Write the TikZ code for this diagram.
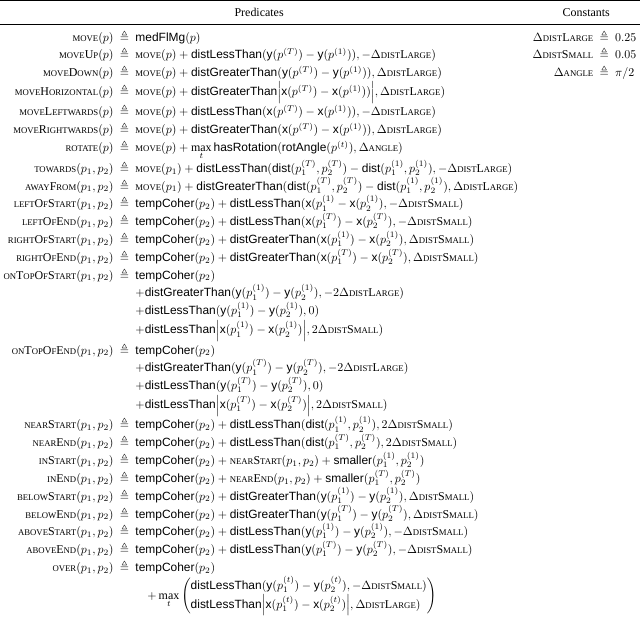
\documentclass[tikz,border=0pt]{standalone}
\usepackage{amsmath,amssymb}
\usepackage{fontspec}
\setmainfont{Liberation Serif}
\setsansfont{Liberation Sans}
\usepackage{booktabs}
\newcommand\K[1]{{\fontsize{7.3}{8}\selectfont\MakeUppercase{#1}}}
\newcommand\Pn[1]{\text{\rmfamily #1}}
\newcommand\F[1]{\mathsf{#1}}
\newcommand\DL{\Delta\Pn{\K{dist}L\K{arge}}}
\newcommand\DS{\Delta\Pn{\K{dist}S\K{mall}}}
\newcommand\DA{\Delta\Pn{\K{angle}}}
\newcommand\MV{\Pn{\K{move}}}
\newcommand\TC{\F{tempCoher}(p_2)}
\newcommand\pa[2]{p_{#1}^{(#2)}}
\newcommand\qq{(p_1,p_2)}
\begin{document}
\begin{tikzpicture}
\node[inner sep=0pt] (tab) {%
\renewcommand\arraystretch{1.24}%
\begin{tabular}{@{}c@{\hspace{1.2em}}c@{}}
\toprule
Predicates & Constants\\
\midrule
$\begin{array}[t]{@{\hspace{0.3em}}r@{\ \;}c@{\ \;}l@{}}
\MV(p) &\triangleq& \F{medFlMg}(p)\\
\Pn{\K{move}U\K{p}}(p) &\triangleq& \MV(p)+\F{distLessThan}(\F{y}(p^{(T)})-\F{y}(p^{(1)})),-\DL)\\
\Pn{\K{move}D\K{own}}(p) &\triangleq& \MV(p)+\F{distGreaterThan}(\F{y}(p^{(T)})-\F{y}(p^{(1)})),\DL)\\
\Pn{\K{move}H\K{orizontal}}(p) &\triangleq& \MV(p)+\F{distGreaterThan}\Bigl|\F{x}(p^{(T)})-\F{x}(p^{(1)}))\Bigr|,\DL)\\
\Pn{\K{move}L\K{eftwards}}(p) &\triangleq& \MV(p)+\F{distLessThan}(\F{x}(p^{(T)})-\F{x}(p^{(1)})),-\DL)\\
\Pn{\K{move}R\K{ightwards}}(p) &\triangleq& \MV(p)+\F{distGreaterThan}(\F{x}(p^{(T)})-\F{x}(p^{(1)})),\DL)\\
\Pn{\K{rotate}}(p) &\triangleq& \MV(p)+\max\limits_t \F{hasRotation}(\F{rotAngle}(p^{(t)}),\DA)\\[2pt]
\Pn{\K{towards}}\qq &\triangleq& \MV(p_1)+\F{distLessThan}(\F{dist}(\pa1T,\pa2T)-\F{dist}(\pa11,\pa21),-\DL)\\
\Pn{\K{away}F\K{rom}}\qq &\triangleq& \MV(p_1)+\F{distGreaterThan}(\F{dist}(\pa1T,\pa2T)-\F{dist}(\pa11,\pa21),\DL)\\
\Pn{\K{left}O\K{f}S\K{tart}}\qq &\triangleq& \TC+\F{distLessThan}(\F{x}(\pa11-\F{x}(\pa21),-\DS)\\
\Pn{\K{left}O\K{f}E\K{nd}}\qq &\triangleq& \TC+\F{distLessThan}(\F{x}(\pa1T)-\F{x}(\pa2T),-\DS)\\
\Pn{\K{right}O\K{f}S\K{tart}}\qq &\triangleq& \TC+\F{distGreaterThan}(\F{x}(\pa11)-\F{x}(\pa21),\DS)\\
\Pn{\K{right}O\K{f}E\K{nd}}\qq &\triangleq& \TC+\F{distGreaterThan}(\F{x}(\pa1T)-\F{x}(\pa2T),\DS)\\
\Pn{\K{on}T\K{op}O\K{f}S\K{tart}}\qq &\triangleq& \TC\\
&& {+}\F{distGreaterThan}(\F{y}(\pa11)-\F{y}(\pa21),-2\DL)\\
&& {+}\F{distLessThan}(\F{y}(\pa11)-\F{y}(\pa21),0)\\
&& {+}\F{distLessThan}\Bigl|\F{x}(\pa11)-\F{x}(\pa21)\Bigr|,2\DS)\\
\Pn{\K{on}T\K{op}O\K{f}E\K{nd}}\qq &\triangleq& \TC\\
&& {+}\F{distGreaterThan}(\F{y}(\pa1T)-\F{y}(\pa2T),-2\DL)\\
&& {+}\F{distLessThan}(\F{y}(\pa1T)-\F{y}(\pa2T),0)\\
&& {+}\F{distLessThan}\Bigl|\F{x}(\pa1T)-\F{x}(\pa2T)\Bigr|,2\DS)\\[2pt]
\Pn{\K{near}S\K{tart}}\qq &\triangleq& \TC+\F{distLessThan}(\F{dist}(\pa11,\pa21),2\DS)\\
\Pn{\K{near}E\K{nd}}\qq &\triangleq& \TC+\F{distLessThan}(\F{dist}(\pa1T,\pa2T),2\DS)\\
\Pn{\K{in}S\K{tart}}\qq &\triangleq& \TC+\Pn{\K{near}S\K{tart}}\qq+\F{smaller}(\pa11,\pa21)\\
\Pn{\K{in}E\K{nd}}\qq &\triangleq& \TC+\Pn{\K{near}E\K{nd}}\qq+\F{smaller}(\pa1T,\pa2T)\\
\Pn{\K{below}S\K{tart}}\qq &\triangleq& \TC+\F{distGreaterThan}(\F{y}(\pa11)-\F{y}(\pa21),\DS)\\
\Pn{\K{below}E\K{nd}}\qq &\triangleq& \TC+\F{distGreaterThan}(\F{y}(\pa1T)-\F{y}(\pa2T),\DS)\\
\Pn{\K{above}S\K{tart}}\qq &\triangleq& \TC+\F{distLessThan}(\F{y}(\pa11)-\F{y}(\pa21),-\DS)\\
\Pn{\K{above}E\K{nd}}\qq &\triangleq& \TC+\F{distLessThan}(\F{y}(\pa1T)-\F{y}(\pa2T),-\DS)\\
\Pn{\K{over}}\qq &\triangleq& \TC\\
&& \quad{+}\max\limits_t\left(\begin{array}{@{}l@{}}
\F{distLessThan}(\F{y}(\pa1t)-\F{y}(\pa2t),-\DS)\\
\F{distLessThan}\Bigl|\F{x}(\pa1t)-\F{x}(\pa2t)\Bigr|,\DL)
\end{array}\right)
\end{array}$
&
$\begin{array}[t]{@{}r@{\ \;}c@{\ \;}l@{\hspace{0.3em}}}
\DL &\triangleq& 0.25\\
\DS &\triangleq& 0.05\\
\DA &\triangleq& \pi/2
\end{array}$
\end{tabular}};
\end{tikzpicture}
\end{document}
